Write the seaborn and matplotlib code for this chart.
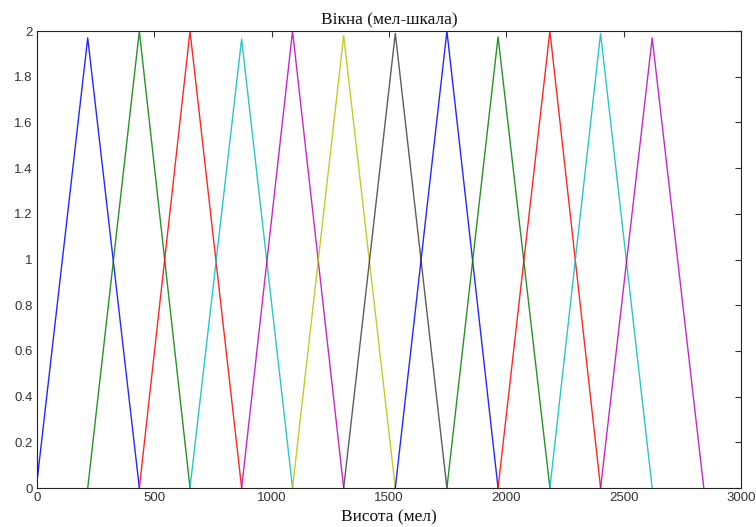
import numpy as np
import pandas as pd
import matplotlib
matplotlib.use("Agg")
import matplotlib.pyplot as plt
import seaborn as sns

# Mel-scale triangular filter bank: window i rises from edges[i] to its peak
# at edges[i+1] and falls back to zero at edges[i+2].
edges = [0, 216, 436, 652, 872, 1089, 1307, 1527, 1747, 1965, 2186, 2402, 2622, 2842]
peaks = [1.97, 2.0, 2.0, 1.965, 2.0, 1.98, 1.99, 2.0, 1.975, 2.0, 1.99, 1.97]
start_level = 0.03  # first window begins slightly above zero

colors = ["#0000ff", "#008000", "#ff0000", "#00bfbf", "#bf00bf", "#bfbf00",
          "#404040", "#0000ff", "#008000", "#ff0000", "#00bfbf", "#bf00bf"]

rows = []
for i, p in enumerate(peaks):
    y0 = start_level if i == 0 else 0.0
    for x, y in ((edges[i], y0), (edges[i + 1], p), (edges[i + 2], 0.0)):
        rows.append({"window": i, "mel": x, "value": y})
df = pd.DataFrame(rows)

sns.set_theme(style="white")
plt.rcParams["font.family"] = ["Liberation Sans", "DejaVu Sans"]

fig = plt.figure(figsize=(7.56, 5.27), dpi=100)
ax = fig.add_axes([0.049, 0.074, 0.931, 0.867])

sns.lineplot(data=df, x="mel", y="value", hue="window", palette=colors,
             legend=False, linewidth=1.0, alpha=0.85, sort=False,
             estimator=None, ax=ax)

ax.set_xlim(0, 3000)
ax.set_ylim(0, 2)
ax.set_xticks(np.arange(0, 3001, 500))
ax.set_yticks(np.round(np.arange(0, 2.01, 0.2), 1))
ax.set_yticklabels(["0", "0.2", "0.4", "0.6", "0.8", "1", "1.2", "1.4", "1.6", "1.8", "2"])
ax.tick_params(direction="in", length=4, width=0.8, top=True, right=True,
               labelsize=9.5, colors="#333333", pad=3)
for s in ax.spines.values():
    s.set_color("#222222")
    s.set_linewidth(0.8)

serif = ["Liberation Serif", "DejaVu Serif"]
ax.set_title("Вікна (мел-шкала)", family=serif, fontsize=12.5, pad=5, color="#111111")
ax.set_xlabel("Висота (мел)", family=serif, fontsize=12.5, labelpad=4, color="#111111")
ax.set_ylabel("")

fig.savefig("out.png", dpi=100)
